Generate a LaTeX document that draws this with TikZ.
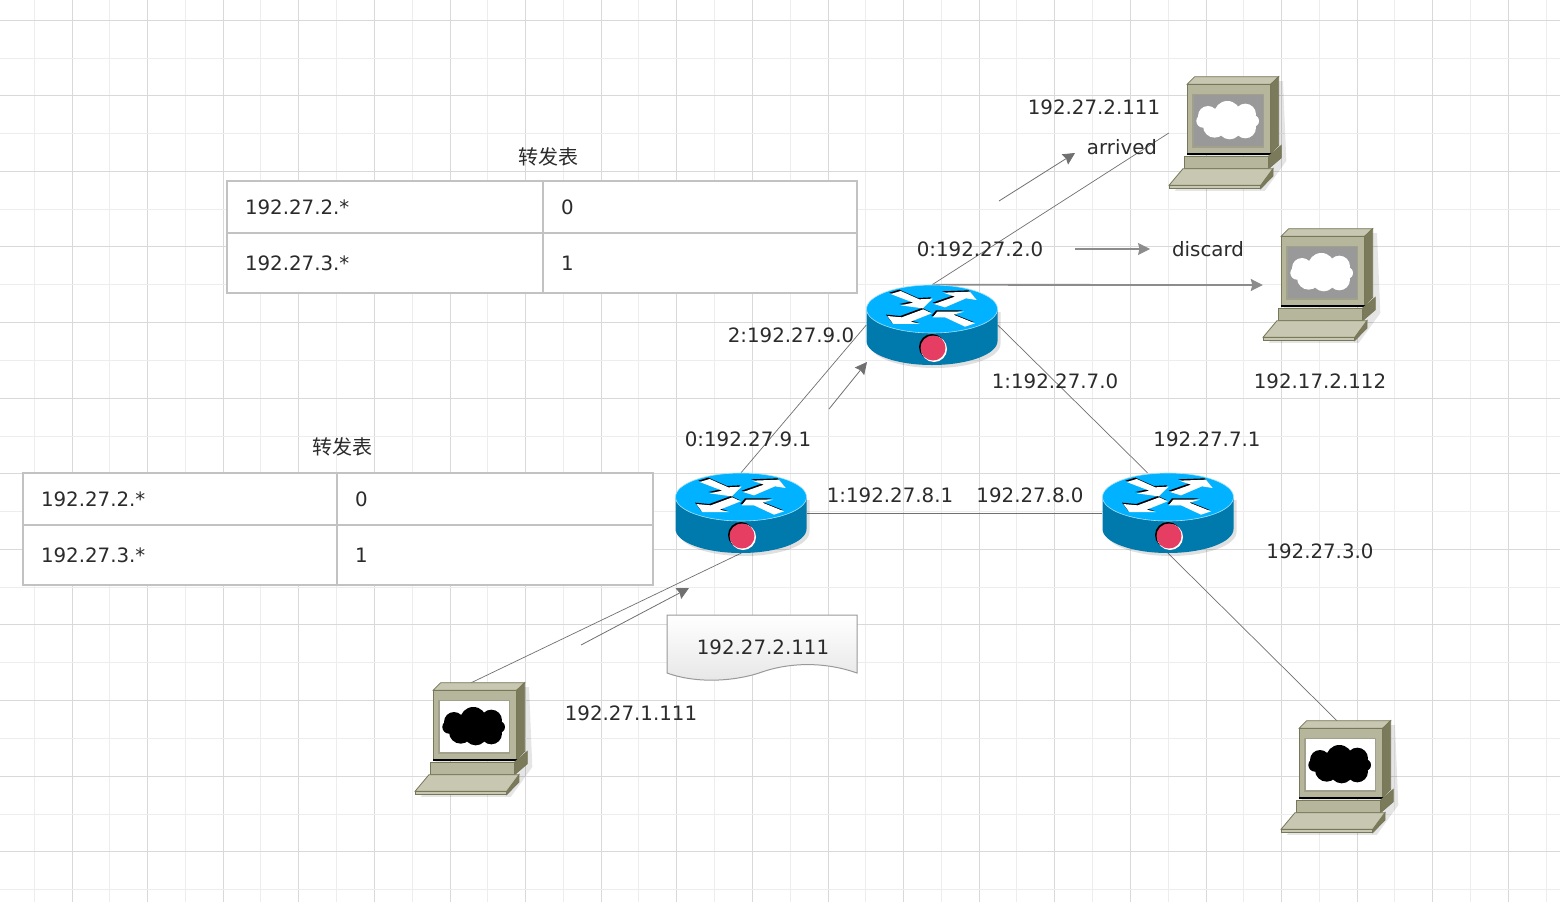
\documentclass[tikz,border=0pt]{standalone}
\usepackage{fontspec}
\setmainfont{DejaVu Sans}
\newfontfamily\cjk{Noto Sans CJK SC}
\usetikzlibrary{arrows.meta,positioning}
\definecolor{textgrey}{HTML}{2B2B2B}
\definecolor{linegrey}{HTML}{707070}
\definecolor{tablegrey}{HTML}{C2C2C2}
\definecolor{pcfront}{HTML}{B6B69C}
\definecolor{pctop}{HTML}{C8C8B2}
\definecolor{pcside}{HTML}{7B7B5B}
\definecolor{pcline}{HTML}{77775A}
\definecolor{routertop}{HTML}{00B2FF}
\definecolor{routerside}{HTML}{0079AC}
\definecolor{routerlamp}{HTML}{E63E62}
\tikzset{
label_text/.style={
	% The font:
	font=\fontsize{19.8}{24}\selectfont,
	text=textgrey,
	inner sep=0pt
},
title_text/.style={
	font=\fontsize{20}{24}\selectfont\cjk,
	text=textgrey,
	inner sep=0pt
},
tab_cell/.style 2 args={
	% The shape:
	rectangle,
	draw=tablegrey,
	fill=white,
	line width=1.5pt,
	inner xsep=18pt,
	inner ysep=0pt,
	outer sep=0pt,
	% The size:
	text width=#1,
	minimum height=#2,
	align=left,
	% The font:
	font=\fontsize{19.8}{24}\selectfont,
	text=textgrey
},
pc_box/.style={inner sep=0pt,minimum size=112pt},
router_box/.style={inner sep=0pt,minimum width=131pt,minimum height=80pt},
link/.style={draw=linegrey,line width=0.7pt},
flow/.style={draw=linegrey,line width=0.8pt,-{Stealth[length=12pt,width=12pt,inset=1.5pt]}},
grid_major/.style={draw=black!15,line width=1pt},
grid_minor/.style={draw=black!7,line width=1pt},
pics/router/.style={code={
	% shadow first
	\fill[black,opacity=0.12,shift={(3,3)}] (-65.5,-16) -- (-65.5,16) arc[start angle=180,end angle=0,x radius=65.5,y radius=24] -- (65.5,-16) -- cycle;
	% body and lid
	\fill[routerside] (-65.5,-16) -- (-65.5,16) arc[start angle=180,end angle=0,x radius=65.5,y radius=24] -- (65.5,-16) -- cycle;
	\draw[fill=routertop,draw=cyan!35,line width=0.6pt] (0,-16) ellipse[x radius=65.5,y radius=24];
	% the four arrows, in the units of a 3x crop
	\begin{scope}[shift={(-72,-45)},scale=0.3333]
		\foreach \dx/\col in {-4/black,0/white}{
			\fill[\col,shift={(\dx,\dx)}] (92,42) -- (122,33) -- (178,58) -- (218,56) -- (188,85) -- (122,76) -- (160,68) -- cycle;
			\fill[\col,shift={(\dx,\dx)}] (222,72) -- (285,50) -- (250,38) -- (330,35) -- (350,60) -- (318,55) -- (255,82) -- cycle;
			\fill[\col,shift={(\dx,\dx)}] (82,108) -- (125,112) -- (190,88) -- (215,100) -- (152,125) -- (180,132) -- (100,132) -- cycle;
			\fill[\col,shift={(\dx,\dx)}] (218,112) -- (232,95) -- (312,95) -- (280,104) -- (345,130) -- (315,140) -- (255,112) -- cycle;
		}
	\end{scope}
	% lamp
	\fill[black] (0,22) circle (13);
	\fill[white] (2,24) circle (13);
	\fill[routerlamp] (1,23) circle (12.5);
}},
pics/pc/.style 2 args={code={
	\begin{scope}[shift={(-67,-67)},scale=0.3333]
		% shadow
		\fill[black,opacity=0.1] (50,375) -- (95,320) -- (95,60) -- (375,45) -- (385,285) -- (320,375) -- cycle;
		% monitor
		\filldraw[fill=pctop,draw=pcline,line width=0.8pt] (87,55) -- (110,32) -- (362,32) -- (338,55) -- cycle;
		\filldraw[fill=pcside,draw=pcline,line width=0.8pt] (338,55) -- (362,32) -- (362,238) -- (338,262) -- cycle;
		\filldraw[fill=pcfront,draw=pcline,line width=0.8pt] (87,55) rectangle (338,262);
		\filldraw[fill=#1,draw=pcline!70,line width=1.2pt] (105,85) rectangle (316,243);
		% cloud
		\foreach \cx/\cy/\cr in {150/150/30,208/145/40,262/145/32,135/165/20,285/165/18,170/180/35,215/185/35,262/185/32,208/165/45}{
			\fill[#2] (\cx,\cy) circle (\cr);
		}
		% base
		\fill[black] (88,262) rectangle (345,268);
		\filldraw[fill=pcside,draw=pcline,line width=0.8pt] (332,270) -- (370,238) -- (370,275) -- (332,308) -- cycle;
		\filldraw[fill=pcfront,draw=pcline,line width=0.8pt] (80,270) rectangle (332,308);
		% keyboard
		\filldraw[fill=pcside,draw=pcline,line width=0.8pt] (308,358) -- (345,308) -- (345,330) -- (308,368) -- cycle;
		\filldraw[fill=pctop,draw=pcline,line width=0.8pt] (33,358) -- (75,308) -- (345,308) -- (308,358) -- cycle;
		\filldraw[fill=pctop,draw=pcline,line width=0.8pt] (33,358) rectangle (308,368);
	\end{scope}
}}
}

\begin{document}
\begin{tikzpicture}[x=1pt,y=-1pt]
	\useasboundingbox (0,0) rectangle (1560,902);
	\fill[white] (0,0) rectangle (1560,902);

	% grid paper
	\foreach \k in {0,...,20}{
		\draw[grid_minor] ({34+75.6*\k},0) -- ({34+75.6*\k},902);
		\draw[grid_major] ({72+75.6*\k},0) -- ({72+75.6*\k},902);
	}
	\foreach \k in {0,...,11}{
		\draw[grid_minor] (0,{58+75.6*\k}) -- (1560,{58+75.6*\k});
		\draw[grid_major] (0,{20+75.6*\k}) -- (1560,{20+75.6*\k});
	}

	% forwarding tables
	\node[tab_cell={280pt}{52pt},anchor=north west] (top_a) at (227,181) {192.27.2.*};
	\node[tab_cell={278pt}{52pt},anchor=north west] (top_b) at (top_a.north east) {0};
	\node[tab_cell={280pt}{60pt},anchor=north west] (top_c) at (top_a.south west) {192.27.3.*};
	\node[tab_cell={278pt}{60pt},anchor=north west] (top_d) at (top_c.north east) {1};
	\node[title_text] (top_title) at (548,157) {转发表};

	\node[tab_cell={278pt}{52pt},anchor=north west] (low_a) at (23,473) {192.27.2.*};
	\node[tab_cell={280pt}{52pt},anchor=north west] (low_b) at (low_a.north east) {0};
	\node[tab_cell={278pt}{60pt},anchor=north west] (low_c) at (low_a.south west) {192.27.3.*};
	\node[tab_cell={280pt}{60pt},anchor=north west] (low_d) at (low_c.north east) {1};
	\node[title_text] (low_title) at (342,447) {转发表};

	% routers and hosts
	\node[router_box] (router_a) at (741,513) {};
	\node[router_box] (router_b) at (1168,513) {};
	\node[router_box] (router_c) at (932,325) {};
	\node[pc_box] (pc_src) at (471,739) {};
	\node[pc_box] (pc_dst) at (1225,133) {};
	\node[pc_box] (pc_drop) at (1319,285) {};
	\node[pc_box] (pc_far) at (1337,777) {};

	% links
	\draw[link] (pc_src.north) -- (router_a.south);
	\draw[link] (router_a.east) -- (router_b.west);
	\draw[link] (router_a.north) -- (router_c.west);
	\draw[link] (router_c.east) -- (router_b.117);
	\draw[link] (router_c.north) -- (pc_dst.west);
	\draw[link] (router_b.south) -- (pc_far.north);
	\draw[flow,draw=black!45,line width=1.8pt] (router_c.north) -- (pc_drop.west);

	\pic at (router_a) {router};
	\pic at (router_b) {router};
	\pic at (router_c) {router};
	\pic at (pc_src) {pc={white}{black}};
	\pic at (pc_far) {pc={white}{black}};
	\pic at (pc_dst) {pc={black!40}{white}};
	\pic at (pc_drop) {pc={black!40}{white}};

	% free arrows
	\coordinate (go_a) at (581,645);
	\coordinate (go_b) at (689,588);
	\coordinate (up_a) at (829,409);
	\coordinate (up_b) at (867,362);
	\coordinate (ok_a) at (999,201);
	\coordinate (ok_b) at (1075,153);
	\coordinate (no_a) at (1075,249);
	\coordinate (no_b) at (1150,249);
	\draw[flow] (go_a) -- (go_b);
	\draw[flow] (up_a) -- (up_b);
	\draw[flow] (ok_a) -- (ok_b);
	\draw[flow,draw=black!45,line width=1.2pt] (no_a) -- (no_b);

	% packet
	\path[draw=black!40,line width=1pt,top color=white,bottom color=black!10]
		(667,615) -- (857,615) -- (857,673) .. controls (820,660) and (785,664) .. (762,672) .. controls (740,680) and (700,685) .. (667,673) -- cycle;
	\node[label_text] (packet) at (763,647) {192.27.2.111};

	% labels
	\node[label_text] (l_dst) at (1094,107) {192.27.2.111};
	\node[label_text] (l_ok) at (1122,147) {arrived};
	\node[label_text] (l_c0) at (980,249) {0:192.27.2.0};
	\node[label_text] (l_no) at (1208,249) {discard};
	\node[label_text] (l_c2) at (791,335) {2:192.27.9.0};
	\node[label_text] (l_c1) at (1055,381) {1:192.27.7.0};
	\node[label_text] (l_drop) at (1320,381) {192.17.2.112};
	\node[label_text] (l_b1) at (1207,439) {192.27.7.1};
	\node[label_text] (l_a0) at (748,439) {0:192.27.9.1};
	\node[label_text] (l_a1) at (890,495) {1:192.27.8.1};
	\node[label_text] (l_b0) at (1030,495) {192.27.8.0};
	\node[label_text] (l_b3) at (1320,551) {192.27.3.0};
	\node[label_text] (l_src) at (631,713) {192.27.1.111};
\end{tikzpicture}
\end{document}
